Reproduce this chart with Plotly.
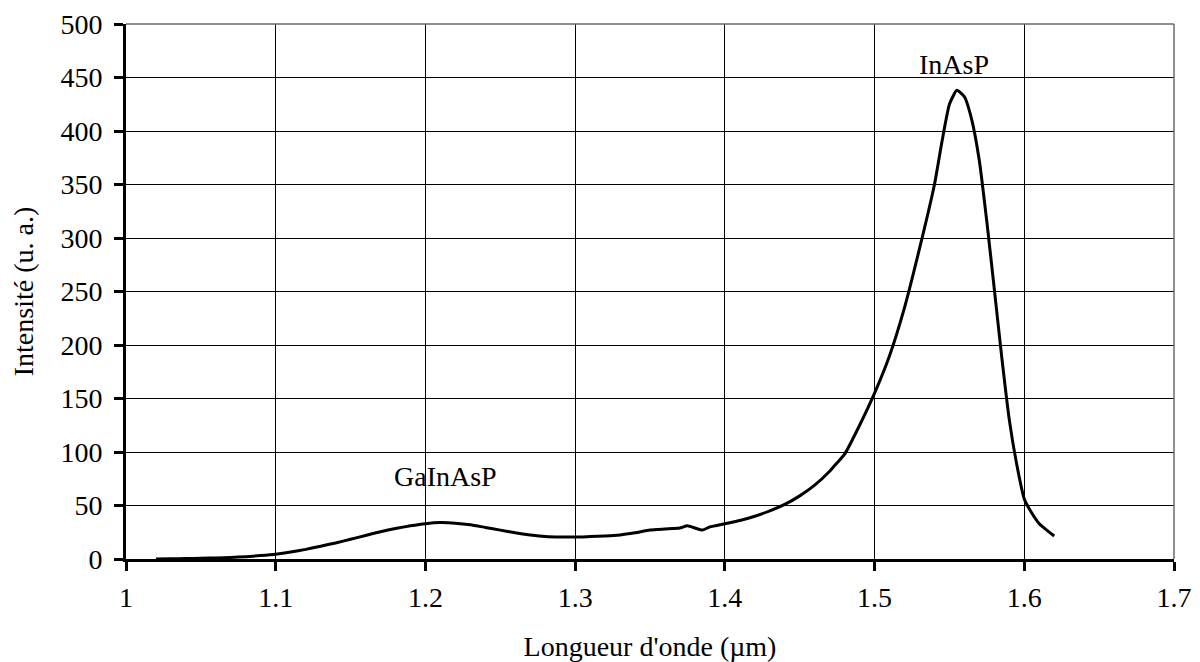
import plotly.graph_objects as go

# Data
wavelength_um = [1.02, 1.03, 1.04, 1.05, 1.06, 1.07, 1.08, 1.09, 1.10,
                 1.11, 1.12, 1.13, 1.14, 1.15, 1.16, 1.17, 1.18, 1.19, 1.20,
                 1.21, 1.22, 1.23, 1.24, 1.25, 1.26, 1.27, 1.28, 1.29, 1.30,
                 1.31, 1.32, 1.33, 1.34, 1.35, 1.36,
                 1.365, 1.37, 1.375, 1.38, 1.385, 1.39,
                 1.40, 1.41, 1.42, 1.43, 1.44, 1.45, 1.46, 1.47, 1.475,
                 1.48, 1.49, 1.50, 1.51, 1.52, 1.53, 1.54,
                 1.545, 1.55, 1.555, 1.56, 1.565, 1.57, 1.575, 1.58, 1.585,
                 1.59, 1.595, 1.60, 1.605, 1.61, 1.615, 1.62]
intensity = [0, 0.2, 0.4, 0.7, 1.0, 1.5, 2.2, 3.2, 4.5,
             6.5, 9, 12, 15, 18.5, 22, 25.5, 28.5, 31, 33,
             34, 33.5, 32, 29.5, 27, 24.5, 22.5, 21, 20.5, 20.5,
             21, 21.5, 22.5, 24.5, 27, 28,
             28.5, 29, 31, 29, 27, 30,
             33, 36, 40, 45, 51, 59, 69, 82, 90,
             98, 125, 155, 190, 235, 290, 350,
             390, 425, 438, 432, 410, 372, 315, 252, 188,
             130, 88, 56, 43, 33, 27, 21.5]

peak_labels = ["InAsP", "GaInAsP"]
peak_label_x = [1.553, 1.2134]
peak_label_y = [462, 77]

x_ticks = [1, 1.1, 1.2, 1.3, 1.4, 1.5, 1.6, 1.7]
x_tick_text = ["1", "1.1", "1.2", "1.3", "1.4", "1.5", "1.6", "1.7"]
y_ticks = list(range(0, 501, 50))

FONT = "Liberation Serif, Times New Roman, serif"

fig = go.Figure()
fig.add_trace(go.Scatter(
    x=wavelength_um, y=intensity, mode="lines",
    line=dict(color="black", width=3, shape="spline", smoothing=0.5),
    showlegend=False, hoverinfo="skip"))

for t, xx, yy in zip(peak_labels, peak_label_x, peak_label_y):
    fig.add_annotation(x=xx, y=yy, text=t, showarrow=False,
                       font=dict(family=FONT, size=28, color="black"),
                       xanchor="center", yanchor="middle")

# light frame on top and right
fig.add_shape(type="line", xref="paper", yref="paper", x0=0, x1=1, y0=1, y1=1,
              line=dict(color="#6a6a6a", width=1.5), layer="above")
fig.add_shape(type="line", xref="paper", yref="paper", x0=1, x1=1, y0=0, y1=1,
              line=dict(color="#6a6a6a", width=1.5), layer="above")

# the page body adds an 8px margin; size the figure to fit the 1200x662 window
fig.update_layout(
    width=1192, height=654,
    margin=dict(l=118, r=26, t=16, b=103),
    paper_bgcolor="white", plot_bgcolor="white",
    font=dict(family=FONT, size=28, color="black"),
    xaxis=dict(
        range=[1, 1.7], tickvals=x_ticks, ticktext=x_tick_text,
        showgrid=True, gridcolor="black", gridwidth=1,
        showline=True, linecolor="black", linewidth=3,
        ticks="outside", ticklen=9, tickwidth=3, tickcolor="black",
        ticklabelstandoff=2,
        zeroline=False, automargin=False,
        title=dict(text="Longueur d'onde (µm)", standoff=25,
                   font=dict(family=FONT, size=28)),
        tickfont=dict(family=FONT, size=28),
    ),
    yaxis=dict(
        range=[0, 500], tickvals=y_ticks,
        showgrid=True, gridcolor="black", gridwidth=1,
        showline=True, linecolor="black", linewidth=3,
        ticks="outside", ticklen=9, tickwidth=3, tickcolor="black",
        ticklabelstandoff=6,
        zeroline=False, automargin=False,
        title=dict(text="Intensité (u. a.)", standoff=27,
                   font=dict(family=FONT, size=28)),
        tickfont=dict(family=FONT, size=28),
    ),
)

fig.write_html("out.html")
